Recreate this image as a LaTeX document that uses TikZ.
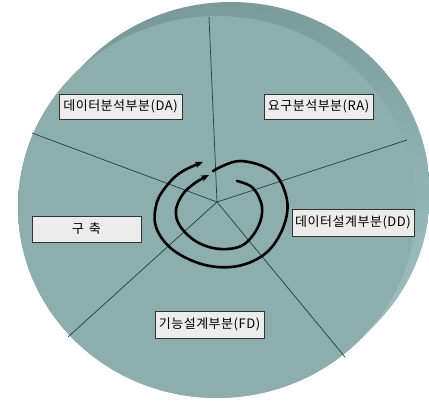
\documentclass[tikz,border=0pt]{standalone}
\usepackage{fontspec}
\newfontfamily\kr[LetterSpace=4]{Noto Sans CJK KR}
\usetikzlibrary{arrows.meta,shadings}
\definecolor{facecol}{HTML}{8EADAD}
\definecolor{rimA}{HTML}{769595}
\definecolor{rimB}{HTML}{7F9E9E}
\definecolor{rimC}{HTML}{A8C8CA}
\definecolor{rimD}{HTML}{8CACAC}
\definecolor{boxfill}{HTML}{ECECEC}
\definecolor{wedgecol}{HTML}{1E4242}
\begin{document}
\begin{tikzpicture}[x=1pt,y=-1pt,
  lbl/.style={draw=black!80, line width=0.8pt, fill=boxfill, inner sep=0pt,
    font=\kr\fontsize{13}{15}\selectfont, text=black},
  wedge/.style={draw=wedgecol, line width=0.7pt},
  spiral/.style={draw=black, line width=2.6pt, line cap=round,
    -{Stealth[length=8pt,width=6.5pt]}}]
\useasboundingbox (0,0) rectangle (429,403);
% cylinder side (swept back disc)
\begin{scope}
\path[clip] (217,207) ellipse [x radius=199pt, y radius=191pt]
  \foreach \t in {0.1,0.2,...,1.0} { (217+14*\t,207-14*\t) ellipse [x radius=199pt, y radius=191pt] };
\shade[upper left=rimA, upper right=rimB, lower right=rimC, lower left=rimD] (0,0) rectangle (429,403);
\end{scope}
% front face
\fill[facecol] (217,207) ellipse [x radius=199pt, y radius=191pt];
% wedge lines
\coordinate (c) at (217,202);
\coordinate (w1) at (209,17);
\coordinate (w2) at (407,140);
\coordinate (w3) at (345,357);
\coordinate (w4) at (68,337);
\coordinate (w5) at (32,133);
\foreach \w in {w1,w2,w3,w4,w5} \draw[wedge] (c) -- (\w);
% spiral
\draw[spiral] plot[smooth, tension=0.6] coordinates {(237,181) (253,188) (262,207) (258,227) (243,245) (220,249) (197,242) (180,226) (176,210) (183,194) (195,183) (209,175)};
\draw[spiral] plot[smooth, tension=0.6] coordinates {(213,171) (240,161) (273,172) (287,200) (283,228) (266,253) (238,266) (205,265) (173,250) (156,227) (157,202) (169,183) (183,171) (203,162)};
% labels
\node[lbl, minimum width=123pt, minimum height=25pt] (da) at (120.5,106.5) {데이터분석부분(DA)};
\node[lbl, minimum width=109pt, minimum height=25pt] (ra) at (318.5,106.5) {요구분석부분(RA)};
\node[lbl, minimum width=122pt, minimum height=27pt] (dd) at (353,222.5) {데이터설계부분(DD)};
\node[lbl, minimum width=109pt, minimum height=26pt] (gc) at (86.5,229) {구\hspace{5pt}축};
\node[lbl, minimum width=109pt, minimum height=27pt] (fd) at (209.5,324.5) {기능설계부분(FD)};
\end{tikzpicture}
\end{document}
